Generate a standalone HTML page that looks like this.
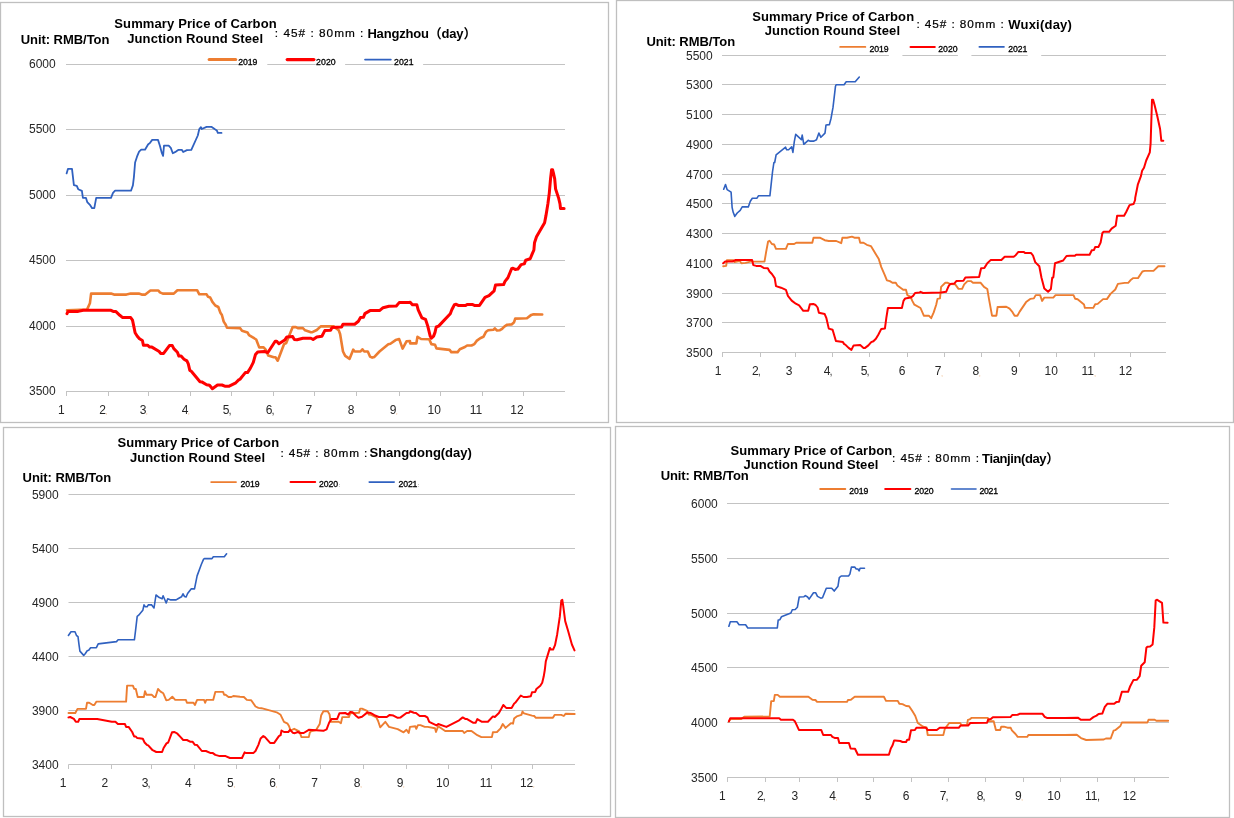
<!DOCTYPE html>
<html lang="en"><head><meta charset="utf-8"><title>Summary Price of Carbon Junction Round Steel</title>
<style>html,body{margin:0;padding:0;background:#fff}body{width:1234px;height:818px;overflow:hidden}svg{display:block}text{font-family:"Liberation Sans","Noto Sans CJK SC",sans-serif}</style>
</head><body>
<svg width="1234" height="818" viewBox="0 0 1234 818">
<rect width="1234" height="818" fill="#fff"/>
<g id="c1">
<rect x="0.5" y="2.5" width="608.0" height="420.0" fill="#fff" stroke="#bfbfbf" stroke-width="1.3"/>
<line x1="66.0" y1="64.5" x2="565.0" y2="64.5" stroke="#c3c3c3" stroke-width="1"/>
<text x="55.7" y="68.4" font-size="12" font-weight="normal" text-anchor="end" fill="#262626">6000</text>
<line x1="66.0" y1="129.5" x2="565.0" y2="129.5" stroke="#c3c3c3" stroke-width="1"/>
<text x="55.7" y="133.4" font-size="12" font-weight="normal" text-anchor="end" fill="#262626">5500</text>
<line x1="66.0" y1="195.5" x2="565.0" y2="195.5" stroke="#c3c3c3" stroke-width="1"/>
<text x="55.7" y="199.4" font-size="12" font-weight="normal" text-anchor="end" fill="#262626">5000</text>
<line x1="66.0" y1="260.5" x2="565.0" y2="260.5" stroke="#c3c3c3" stroke-width="1"/>
<text x="55.7" y="264.4" font-size="12" font-weight="normal" text-anchor="end" fill="#262626">4500</text>
<line x1="66.0" y1="326.5" x2="565.0" y2="326.5" stroke="#c3c3c3" stroke-width="1"/>
<text x="55.7" y="330.4" font-size="12" font-weight="normal" text-anchor="end" fill="#262626">4000</text>
<line x1="66.0" y1="391.5" x2="565.0" y2="391.5" stroke="#c3c3c3" stroke-width="1"/>
<text x="55.7" y="395.4" font-size="12" font-weight="normal" text-anchor="end" fill="#262626">3500</text>
<line x1="66.5" y1="391.5" x2="66.5" y2="396.0" stroke="#c3c3c3" stroke-width="1"/>
<line x1="108.5" y1="391.5" x2="108.5" y2="396.0" stroke="#c3c3c3" stroke-width="1"/>
<line x1="148.5" y1="391.5" x2="148.5" y2="396.0" stroke="#c3c3c3" stroke-width="1"/>
<line x1="190.5" y1="391.5" x2="190.5" y2="396.0" stroke="#c3c3c3" stroke-width="1"/>
<line x1="231.5" y1="391.5" x2="231.5" y2="396.0" stroke="#c3c3c3" stroke-width="1"/>
<line x1="273.5" y1="391.5" x2="273.5" y2="396.0" stroke="#c3c3c3" stroke-width="1"/>
<line x1="314.5" y1="391.5" x2="314.5" y2="396.0" stroke="#c3c3c3" stroke-width="1"/>
<line x1="356.5" y1="391.5" x2="356.5" y2="396.0" stroke="#c3c3c3" stroke-width="1"/>
<line x1="399.5" y1="391.5" x2="399.5" y2="396.0" stroke="#c3c3c3" stroke-width="1"/>
<line x1="440.5" y1="391.5" x2="440.5" y2="396.0" stroke="#c3c3c3" stroke-width="1"/>
<line x1="482.5" y1="391.5" x2="482.5" y2="396.0" stroke="#c3c3c3" stroke-width="1"/>
<line x1="523.5" y1="391.5" x2="523.5" y2="396.0" stroke="#c3c3c3" stroke-width="1"/>
<text x="61.4" y="413.5" font-size="12" font-weight="normal" text-anchor="middle" fill="#262626">1</text>
<text x="102.6" y="413.5" font-size="12" font-weight="normal" text-anchor="middle" fill="#262626">2</text>
<text x="105.4" y="414.1" font-size="7.5" font-weight="normal" text-anchor="start" fill="#EDB88A">,</text>
<text x="143.0" y="413.5" font-size="12" font-weight="normal" text-anchor="middle" fill="#262626">3</text>
<text x="145.8" y="414.1" font-size="7.5" font-weight="normal" text-anchor="start" fill="#EDB88A">,</text>
<text x="185.0" y="413.5" font-size="12" font-weight="normal" text-anchor="middle" fill="#262626">4</text>
<text x="187.8" y="414.1" font-size="7.5" font-weight="normal" text-anchor="start" fill="#EDB88A">,</text>
<text x="226.0" y="413.5" font-size="12" font-weight="normal" text-anchor="middle" fill="#262626">5</text>
<text x="228.5" y="413.8" font-size="11" font-weight="normal" text-anchor="start" fill="#3a3a3a">,</text>
<text x="269.0" y="413.5" font-size="12" font-weight="normal" text-anchor="middle" fill="#262626">6</text>
<text x="271.5" y="413.8" font-size="11" font-weight="normal" text-anchor="start" fill="#3a3a3a">,</text>
<text x="308.8" y="413.5" font-size="12" font-weight="normal" text-anchor="middle" fill="#262626">7</text>
<text x="351.0" y="413.5" font-size="12" font-weight="normal" text-anchor="middle" fill="#262626">8</text>
<text x="393.0" y="413.5" font-size="12" font-weight="normal" text-anchor="middle" fill="#262626">9</text>
<text x="395.8" y="414.1" font-size="7.5" font-weight="normal" text-anchor="start" fill="#EDB88A">,</text>
<text x="434.2" y="413.5" font-size="12" font-weight="normal" text-anchor="middle" fill="#262626">10</text>
<text x="476.0" y="413.5" font-size="12" font-weight="normal" text-anchor="middle" fill="#262626">11</text>
<text x="517.0" y="413.5" font-size="12" font-weight="normal" text-anchor="middle" fill="#262626">12</text>
<rect x="237.9" y="60.6" width="29.4" height="10.0" fill="#fff" stroke="none"/>
<line x1="209.1" y1="59.6" x2="235.7" y2="59.6" stroke="#ED7D31" stroke-width="3.0" stroke-linecap="round"/>
<text x="238.2" y="64.9" font-size="8.7" font-weight="normal" text-anchor="start" fill="#000" textLength="19.1" lengthAdjust="spacing" stroke="#000" stroke-width="0.3">2019</text>
<rect x="315.7" y="60.6" width="29.4" height="10.0" fill="#fff" stroke="none"/>
<line x1="287.2" y1="59.6" x2="313.9" y2="59.6" stroke="#FF0000" stroke-width="3.2" stroke-linecap="round"/>
<text x="316.0" y="64.9" font-size="8.7" font-weight="normal" text-anchor="start" fill="#000" textLength="19.7" lengthAdjust="spacing" stroke="#000" stroke-width="0.3">2020</text>
<rect x="393.7" y="60.6" width="29.4" height="10.0" fill="#fff" stroke="none"/>
<line x1="365.1" y1="59.6" x2="390.8" y2="59.6" stroke="#3061C0" stroke-width="1.9" stroke-linecap="round"/>
<text x="394.0" y="64.9" font-size="8.7" font-weight="normal" text-anchor="start" fill="#000" textLength="19.6" lengthAdjust="spacing" stroke="#000" stroke-width="0.3">2021</text>
<path d="M67.0 310.3 L87.0 309.6 L89.9 303.3 L91.1 293.6 L111.0 293.6 L114.0 294.6 L126.4 294.6 L130.7 293.6 L138.8 293.6 L141.7 294.6 L145.3 294.6 L150.4 290.5 L158.4 290.5 L159.9 292.4 L162.8 293.6 L173.8 293.6 L177.4 290.2 L197.1 290.2 L199.3 294.3 L206.6 294.3 L208.1 296.8 L210.2 297.5 L212.4 301.9 L215.3 305.5 L218.3 307.0 L220.4 312.8 L221.9 315.0 L223.7 321.6 L225.6 324.5 L227.0 327.8 L240.0 328.1 L242.0 330.8 L247.5 332.5 L249.0 335.1 L256.2 339.5 L259.2 347.4 L263.6 347.4 L265.7 349.7 L268.2 355.4 L273.8 357.3 L275.5 357.3 L277.7 360.7 L284.0 344.2 L286.2 343.0 L292.7 327.1 L295.9 327.1 L297.8 328.1 L302.9 328.1 L305.1 330.3 L310.9 332.2 L312.4 332.2 L316.8 330.0 L320.7 326.4 L333.6 326.4 L338.7 330.3 L340.1 334.0 L343.0 351.5 L345.2 355.9 L349.6 358.8 L353.2 349.7 L354.7 351.5 L360.5 351.5 L362.4 349.3 L364.2 351.5 L367.8 351.5 L370.0 356.6 L372.2 357.6 L374.4 356.9 L379.5 351.5 L388.3 344.2 L390.4 343.7 L395.6 340.1 L399.2 339.1 L402.6 348.6 L406.5 341.3 L410.0 341.0 L410.2 343.4 L416.3 343.4 L417.5 336.8 L421.1 339.0 L429.2 339.3 L431.4 344.1 L435.0 344.8 L436.5 348.4 L449.6 349.9 L451.3 352.1 L457.6 352.1 L459.8 349.2 L464.9 347.0 L467.1 345.5 L471.5 345.5 L474.4 344.1 L476.6 340.9 L480.2 338.2 L483.4 336.8 L486.1 331.7 L488.2 330.2 L493.4 329.8 L494.8 328.3 L497.0 330.5 L499.9 330.2 L502.1 328.8 L504.3 326.6 L507.2 324.7 L511.6 324.4 L514.1 322.2 L515.2 318.6 L526.9 318.3 L531.3 314.9 L533.5 314.2 L542.2 314.5" fill="none" stroke="#ED7D31" stroke-width="2.6" stroke-linejoin="round" stroke-linecap="round"/>
<path d="M67.0 313.6 L68.0 311.4 L78.2 311.4 L83.3 310.3 L111.0 310.3 L113.2 311.4 L115.7 311.4 L119.8 315.3 L122.7 317.6 L130.7 317.6 L132.5 320.1 L133.7 325.9 L135.1 332.8 L137.3 336.2 L139.5 338.8 L142.4 340.5 L143.4 345.2 L147.5 345.2 L149.7 347.1 L151.9 347.1 L159.2 351.5 L160.6 353.4 L163.6 353.4 L169.4 345.6 L172.3 345.6 L173.8 348.6 L177.4 352.2 L178.9 356.1 L181.1 356.1 L184.0 359.2 L186.9 360.9 L188.3 363.9 L189.8 370.4 L191.3 371.2 L200.0 381.7 L202.2 382.1 L206.6 384.7 L209.5 385.3 L212.4 388.7 L217.5 385.0 L221.9 385.0 L224.8 386.2 L229.2 386.2 L235.8 382.8 L238.7 379.9 L240.0 379.2 L245.3 372.6 L247.5 372.6 L250.4 368.2 L253.3 362.4 L255.5 354.4 L257.7 351.9 L264.3 351.5 L267.9 352.5 L275.2 341.3 L276.7 341.3 L278.9 343.7 L284.7 340.1 L286.9 336.9 L292.7 336.6 L294.2 339.4 L297.1 339.8 L302.9 338.3 L310.9 338.3 L313.1 339.5 L316.8 336.9 L321.9 336.2 L324.8 330.6 L330.6 330.3 L332.1 327.4 L341.6 327.0 L343.0 324.2 L354.7 324.2 L358.4 321.3 L360.5 317.6 L363.5 317.2 L364.9 313.6 L370.0 310.6 L379.5 310.6 L383.1 307.7 L389.0 306.2 L396.3 306.0 L399.2 302.6 L410.0 302.3 L410.2 302.2 L412.4 304.7 L416.8 304.7 L418.2 309.8 L421.9 317.8 L425.5 319.3 L427.7 325.9 L430.2 336.1 L431.4 338.2 L433.6 336.1 L435.0 332.4 L436.2 327.0 L438.6 326.1 L450.3 313.7 L451.8 309.8 L454.4 304.7 L456.2 304.3 L458.3 305.4 L465.6 305.4 L467.1 304.4 L472.2 304.4 L474.4 305.4 L479.5 305.4 L485.0 297.4 L489.0 295.6 L494.1 290.8 L495.5 285.0 L503.6 284.6 L505.0 281.4 L507.9 277.7 L511.6 268.7 L513.0 268.2 L515.2 269.4 L517.9 269.0 L521.1 264.6 L524.3 263.9 L525.7 260.2 L530.2 258.8 L532.0 254.4 L533.9 250.0 L534.5 242.8 L536.5 236.8 L544.6 222.7 L545.9 215.9 L547.9 203.8 L549.3 193.1 L550.6 178.2 L551.6 169.8 L552.6 169.8 L553.7 174.2 L554.7 178.9 L555.6 189.0 L558.7 198.4 L560.0 203.8 L560.5 208.5 L564.1 208.5" fill="none" stroke="#FF0000" stroke-width="3.0" stroke-linejoin="round" stroke-linecap="round"/>
<path d="M66.6 173.4 L68.0 168.8 L72.0 168.8 L73.9 185.1 L76.8 185.8 L78.2 189.2 L81.9 190.9 L82.9 197.9 L86.0 197.9 L87.3 202.2 L89.9 204.8 L92.1 208.2 L94.3 208.2 L96.2 197.8 L111.0 197.8 L113.0 192.8 L115.1 190.7 L131.0 190.7 L132.9 185.4 L133.9 177.1 L135.1 162.5 L137.0 156.7 L139.1 151.6 L141.2 149.7 L145.0 149.7 L148.2 144.3 L149.7 143.3 L152.2 139.9 L158.0 139.9 L159.9 145.7 L161.7 152.6 L163.1 155.9 L164.0 145.7 L168.7 145.7 L170.8 147.9 L172.8 153.2 L176.0 151.6 L178.6 149.8 L181.8 149.8 L183.2 152.0 L186.9 150.1 L191.3 149.8 L197.8 135.5 L199.3 129.0 L200.9 127.2 L201.8 129.0 L206.6 126.9 L211.7 126.9 L214.6 129.0 L216.8 130.4 L217.8 132.9 L221.5 132.9" fill="none" stroke="#3061C0" stroke-width="1.8" stroke-linejoin="round" stroke-linecap="round"/>
<text x="114.3" y="28.1" font-size="13" font-weight="bold" text-anchor="start" fill="#000" textLength="162.4" lengthAdjust="spacing">Summary Price of Carbon</text>
<text x="127.2" y="43.2" font-size="13" font-weight="bold" text-anchor="start" fill="#000" textLength="135.8" lengthAdjust="spacing">Junction Round Steel</text>
<text x="20.7" y="44.4" font-size="13" font-weight="bold" text-anchor="start" fill="#000" textLength="88.7" lengthAdjust="spacing">Unit: RMB/Ton</text>
<text x="274.8" y="37.3" font-size="11.8" font-weight="normal" text-anchor="start" fill="#000" textLength="88.6" lengthAdjust="spacing" stroke="#000" stroke-width="0.2">: 45# : 80mm :</text>
<text x="367.4" y="38.1" font-size="13" font-weight="bold" text-anchor="start" fill="#000" textLength="109.0" lengthAdjust="spacing">Hangzhou（day）</text>
</g>
<g id="c2">
<rect x="616.5" y="0.5" width="617.0" height="422.0" fill="#fff" stroke="#bfbfbf" stroke-width="1.3"/>
<line x1="722.0" y1="55.5" x2="1166.0" y2="55.5" stroke="#c3c3c3" stroke-width="1"/>
<text x="712.7" y="59.6" font-size="12" font-weight="normal" text-anchor="end" fill="#262626">5500</text>
<line x1="722.0" y1="84.5" x2="1166.0" y2="84.5" stroke="#c3c3c3" stroke-width="1"/>
<text x="712.7" y="88.6" font-size="12" font-weight="normal" text-anchor="end" fill="#262626">5300</text>
<line x1="722.0" y1="114.5" x2="1166.0" y2="114.5" stroke="#c3c3c3" stroke-width="1"/>
<text x="712.7" y="118.6" font-size="12" font-weight="normal" text-anchor="end" fill="#262626">5100</text>
<line x1="722.0" y1="144.5" x2="1166.0" y2="144.5" stroke="#c3c3c3" stroke-width="1"/>
<text x="712.7" y="148.6" font-size="12" font-weight="normal" text-anchor="end" fill="#262626">4900</text>
<line x1="722.0" y1="174.5" x2="1166.0" y2="174.5" stroke="#c3c3c3" stroke-width="1"/>
<text x="712.7" y="178.6" font-size="12" font-weight="normal" text-anchor="end" fill="#262626">4700</text>
<line x1="722.0" y1="203.5" x2="1166.0" y2="203.5" stroke="#c3c3c3" stroke-width="1"/>
<text x="712.7" y="207.6" font-size="12" font-weight="normal" text-anchor="end" fill="#262626">4500</text>
<line x1="722.0" y1="233.5" x2="1166.0" y2="233.5" stroke="#c3c3c3" stroke-width="1"/>
<text x="712.7" y="237.6" font-size="12" font-weight="normal" text-anchor="end" fill="#262626">4300</text>
<line x1="722.0" y1="263.5" x2="1166.0" y2="263.5" stroke="#c3c3c3" stroke-width="1"/>
<text x="712.7" y="267.6" font-size="12" font-weight="normal" text-anchor="end" fill="#262626">4100</text>
<line x1="722.0" y1="293.5" x2="1166.0" y2="293.5" stroke="#c3c3c3" stroke-width="1"/>
<text x="712.7" y="297.6" font-size="12" font-weight="normal" text-anchor="end" fill="#262626">3900</text>
<line x1="722.0" y1="322.5" x2="1166.0" y2="322.5" stroke="#c3c3c3" stroke-width="1"/>
<text x="712.7" y="326.6" font-size="12" font-weight="normal" text-anchor="end" fill="#262626">3700</text>
<line x1="722.0" y1="352.5" x2="1166.0" y2="352.5" stroke="#c3c3c3" stroke-width="1"/>
<text x="712.7" y="356.6" font-size="12" font-weight="normal" text-anchor="end" fill="#262626">3500</text>
<line x1="722.5" y1="352.5" x2="722.5" y2="357.0" stroke="#c3c3c3" stroke-width="1"/>
<line x1="760.5" y1="352.5" x2="760.5" y2="357.0" stroke="#c3c3c3" stroke-width="1"/>
<line x1="795.5" y1="352.5" x2="795.5" y2="357.0" stroke="#c3c3c3" stroke-width="1"/>
<line x1="832.5" y1="352.5" x2="832.5" y2="357.0" stroke="#c3c3c3" stroke-width="1"/>
<line x1="869.5" y1="352.5" x2="869.5" y2="357.0" stroke="#c3c3c3" stroke-width="1"/>
<line x1="907.5" y1="352.5" x2="907.5" y2="357.0" stroke="#c3c3c3" stroke-width="1"/>
<line x1="944.5" y1="352.5" x2="944.5" y2="357.0" stroke="#c3c3c3" stroke-width="1"/>
<line x1="981.5" y1="352.5" x2="981.5" y2="357.0" stroke="#c3c3c3" stroke-width="1"/>
<line x1="1019.5" y1="352.5" x2="1019.5" y2="357.0" stroke="#c3c3c3" stroke-width="1"/>
<line x1="1056.5" y1="352.5" x2="1056.5" y2="357.0" stroke="#c3c3c3" stroke-width="1"/>
<line x1="1094.5" y1="352.5" x2="1094.5" y2="357.0" stroke="#c3c3c3" stroke-width="1"/>
<line x1="1130.5" y1="352.5" x2="1130.5" y2="357.0" stroke="#c3c3c3" stroke-width="1"/>
<text x="718.1" y="375.0" font-size="12" font-weight="normal" text-anchor="middle" fill="#262626">1</text>
<text x="755.3" y="375.0" font-size="12" font-weight="normal" text-anchor="middle" fill="#262626">2</text>
<text x="757.8" y="375.3" font-size="11" font-weight="normal" text-anchor="start" fill="#3a3a3a">,</text>
<text x="789.1" y="375.0" font-size="12" font-weight="normal" text-anchor="middle" fill="#262626">3</text>
<text x="827.0" y="375.0" font-size="12" font-weight="normal" text-anchor="middle" fill="#262626">4</text>
<text x="829.5" y="375.3" font-size="11" font-weight="normal" text-anchor="start" fill="#3a3a3a">,</text>
<text x="864.0" y="375.0" font-size="12" font-weight="normal" text-anchor="middle" fill="#262626">5</text>
<text x="866.5" y="375.3" font-size="11" font-weight="normal" text-anchor="start" fill="#3a3a3a">,</text>
<text x="902.2" y="375.0" font-size="12" font-weight="normal" text-anchor="middle" fill="#262626">6</text>
<text x="938.2" y="375.0" font-size="12" font-weight="normal" text-anchor="middle" fill="#262626">7</text>
<text x="941.0" y="375.6" font-size="7.5" font-weight="normal" text-anchor="start" fill="#EDB88A">,</text>
<text x="975.9" y="375.0" font-size="12" font-weight="normal" text-anchor="middle" fill="#262626">8</text>
<text x="978.7" y="375.6" font-size="7.5" font-weight="normal" text-anchor="start" fill="#EDB88A">,</text>
<text x="1014.3" y="375.0" font-size="12" font-weight="normal" text-anchor="middle" fill="#262626">9</text>
<text x="1051.2" y="375.0" font-size="12" font-weight="normal" text-anchor="middle" fill="#262626">10</text>
<text x="1087.7" y="375.0" font-size="12" font-weight="normal" text-anchor="middle" fill="#262626">11</text>
<text x="1093.9" y="375.6" font-size="7.5" font-weight="normal" text-anchor="start" fill="#EDB88A">,</text>
<text x="1125.4" y="375.0" font-size="12" font-weight="normal" text-anchor="middle" fill="#262626">12</text>
<rect x="888.9" y="51.9" width="13.5" height="8.0" fill="#fff" stroke="none"/>
<line x1="840.2" y1="46.9" x2="865.3" y2="46.9" stroke="#ED7D31" stroke-width="1.9" stroke-linecap="round"/>
<text x="869.4" y="51.8" font-size="8.7" font-weight="normal" text-anchor="start" fill="#000" textLength="19.2" lengthAdjust="spacing" stroke="#000" stroke-width="0.3">2019</text>
<rect x="957.9" y="51.9" width="13.5" height="8.0" fill="#fff" stroke="none"/>
<line x1="910.5" y1="46.9" x2="934.8" y2="46.9" stroke="#FF0000" stroke-width="2.0" stroke-linecap="round"/>
<text x="938.2" y="51.8" font-size="8.7" font-weight="normal" text-anchor="start" fill="#000" textLength="19.4" lengthAdjust="spacing" stroke="#000" stroke-width="0.3">2020</text>
<rect x="1027.7" y="51.9" width="13.5" height="8.0" fill="#fff" stroke="none"/>
<line x1="979.3" y1="46.9" x2="1004.0" y2="46.9" stroke="#3061C0" stroke-width="1.6" stroke-linecap="round"/>
<text x="1008.2" y="51.8" font-size="8.7" font-weight="normal" text-anchor="start" fill="#000" textLength="19.2" lengthAdjust="spacing" stroke="#000" stroke-width="0.3">2021</text>
<path d="M723.2 266.2 L726.2 265.9 L726.9 260.1 L733.1 260.1 L734.5 262.1 L739.8 261.0 L741.4 263.3 L745.5 262.9 L750.5 261.6 L764.5 261.6 L766.1 252.2 L768.1 241.5 L769.5 240.7 L771.9 244.0 L774.1 244.5 L776.0 248.9 L785.9 248.9 L787.9 244.0 L794.2 244.0 L796.2 242.7 L812.3 242.7 L813.5 237.7 L819.8 237.7 L824.7 240.2 L828.8 241.0 L836.3 241.0 L841.2 243.2 L842.4 237.7 L847.0 237.7 L851.9 236.6 L854.4 237.7 L859.0 237.7 L860.2 242.8 L863.5 242.8 L866.8 244.8 L870.9 246.1 L878.8 259.1 L881.3 267.1 L884.9 275.3 L886.9 280.3 L889.9 281.1 L892.4 282.8 L895.0 282.8 L895.8 282.8 L897.4 285.6 L903.2 289.8 L906.0 289.8 L907.3 295.1 L910.6 296.8 L912.3 300.9 L914.4 304.7 L920.5 308.0 L923.8 315.7 L928.8 315.7 L931.2 318.2 L933.7 312.4 L936.2 304.7 L937.5 298.9 L940.0 298.4 L941.1 286.9 L945.3 282.8 L947.8 282.8 L950.2 284.1 L955.2 284.4 L958.5 288.9 L962.1 288.9 L964.2 284.4 L967.5 281.1 L970.8 281.1 L973.0 282.8 L980.7 282.8 L984.0 286.9 L987.3 289.0 L989.0 299.2 L992.0 315.7 L996.4 315.7 L997.6 307.0 L1006.3 306.7 L1009.6 308.6 L1012.1 311.6 L1014.6 315.7 L1017.4 315.7 L1019.5 311.9 L1026.1 302.1 L1030.2 298.9 L1033.9 298.4 L1035.7 295.1 L1040.1 295.1 L1042.1 300.9 L1044.3 297.6 L1053.3 297.6 L1055.5 295.1 L1070.0 295.1 L1073.5 295.1 L1075.2 298.8 L1077.6 299.3 L1084.0 304.5 L1084.9 307.9 L1093.3 307.9 L1095.2 304.2 L1097.7 303.9 L1103.1 299.1 L1106.9 299.1 L1110.5 293.9 L1115.3 289.5 L1117.9 283.9 L1124.8 282.9 L1128.2 282.9 L1130.4 280.3 L1133.3 278.1 L1138.0 278.1 L1142.4 271.5 L1144.6 270.9 L1153.5 270.9 L1158.3 266.3 L1164.5 266.3" fill="none" stroke="#ED7D31" stroke-width="1.9" stroke-linejoin="round" stroke-linecap="round"/>
<path d="M723.2 263.3 L725.2 261.6 L732.3 261.6 L735.6 260.0 L752.1 260.0 L753.3 265.1 L756.2 265.9 L760.4 265.9 L763.7 267.9 L767.8 268.2 L769.5 271.5 L771.9 274.0 L774.7 278.1 L776.0 286.1 L781.0 287.7 L785.9 289.8 L787.9 295.9 L791.7 300.6 L795.8 303.7 L799.1 305.4 L803.3 310.8 L808.2 310.8 L809.9 304.2 L813.2 303.9 L815.6 305.0 L817.6 307.5 L818.9 312.8 L824.7 314.1 L826.4 318.2 L828.8 328.6 L832.6 329.8 L835.9 341.0 L842.9 342.1 L844.2 344.1 L845.3 344.6 L848.6 347.9 L851.4 349.9 L853.6 345.4 L860.2 345.1 L863.5 347.9 L865.1 347.9 L868.4 345.4 L871.2 342.1 L873.4 341.3 L875.9 338.8 L878.3 334.7 L881.3 328.9 L884.9 328.6 L886.3 318.2 L887.9 308.0 L895.0 308.0 L901.9 308.0 L903.5 300.9 L905.2 298.4 L910.6 297.6 L913.1 295.9 L915.1 293.0 L919.7 292.6 L920.5 291.8 L923.0 293.0 L941.1 292.6 L946.1 291.8 L948.6 286.1 L950.2 284.1 L954.3 283.6 L956.3 281.1 L963.4 280.8 L965.4 277.5 L979.1 277.0 L981.1 268.2 L984.4 267.9 L987.3 263.3 L990.6 260.1 L1001.4 260.0 L1004.7 256.8 L1013.7 256.7 L1015.7 255.2 L1018.4 251.9 L1023.6 251.9 L1025.3 253.1 L1031.1 253.1 L1033.0 255.5 L1035.2 262.1 L1039.3 266.2 L1041.5 277.8 L1044.3 288.5 L1048.1 291.8 L1050.9 289.0 L1052.2 277.8 L1053.3 277.5 L1055.0 263.3 L1063.2 260.5 L1066.5 256.0 L1070.0 255.8 L1074.9 255.8 L1076.1 254.7 L1089.6 254.7 L1091.8 250.3 L1094.0 249.9 L1095.2 247.0 L1098.4 247.0 L1100.6 242.6 L1102.4 233.0 L1103.6 231.8 L1109.1 231.8 L1111.6 228.6 L1115.7 225.7 L1117.1 215.8 L1124.1 215.8 L1126.3 211.7 L1129.5 205.1 L1133.6 204.0 L1135.1 200.0 L1135.2 197.9 L1137.8 184.7 L1141.0 175.9 L1142.1 170.8 L1144.0 167.8 L1146.2 160.5 L1149.8 152.4 L1150.6 143.6 L1151.3 121.7 L1152.0 99.7 L1153.1 99.7 L1154.5 104.8 L1157.2 115.8 L1160.1 129.0 L1161.3 140.7 L1163.3 140.7" fill="none" stroke="#FF0000" stroke-width="2.0" stroke-linejoin="round" stroke-linecap="round"/>
<path d="M723.7 189.2 L725.5 184.5 L727.1 189.6 L731.1 192.2 L732.1 207.3 L733.2 212.3 L734.8 216.4 L737.2 213.0 L740.2 210.3 L742.2 206.9 L748.3 206.9 L750.3 201.2 L752.3 198.2 L757.0 198.2 L758.4 195.8 L769.9 195.8 L771.5 181.1 L772.5 172.0 L773.9 162.5 L774.7 162.5 L776.1 154.8 L785.6 147.2 L786.6 149.8 L788.6 149.8 L791.7 146.8 L792.9 152.4 L794.3 141.7 L795.7 134.3 L801.4 139.7 L802.2 135.1 L803.8 144.3 L808.2 140.3 L809.8 141.1 L813.9 141.1 L816.5 139.7 L818.9 133.1 L820.9 137.3 L825.0 133.1 L826.0 125.0 L829.4 124.6 L831.0 118.5 L833.0 107.4 L835.5 86.2 L836.1 84.8 L844.1 84.8 L846.2 81.8 L855.2 81.8 L859.3 77.0" fill="none" stroke="#3061C0" stroke-width="1.6" stroke-linejoin="round" stroke-linecap="round"/>
<text x="752.2" y="21.4" font-size="13" font-weight="bold" text-anchor="start" fill="#000" textLength="161.9" lengthAdjust="spacing">Summary Price of Carbon</text>
<text x="764.8" y="35.3" font-size="13" font-weight="bold" text-anchor="start" fill="#000" textLength="135.2" lengthAdjust="spacing">Junction Round Steel</text>
<text x="646.4" y="45.5" font-size="13" font-weight="bold" text-anchor="start" fill="#000" textLength="88.7" lengthAdjust="spacing">Unit: RMB/Ton</text>
<text x="916.4" y="28.4" font-size="11.8" font-weight="normal" text-anchor="start" fill="#000" textLength="87.4" lengthAdjust="spacing" stroke="#000" stroke-width="0.2">: 45# : 80mm :</text>
<text x="1008.2" y="29.2" font-size="13" font-weight="bold" text-anchor="start" fill="#000" textLength="63.7" lengthAdjust="spacing">Wuxi(day)</text>
</g>
<g id="c3">
<rect x="3.5" y="427.5" width="607.0" height="389.0" fill="#fff" stroke="#bfbfbf" stroke-width="1.3"/>
<line x1="68.5" y1="494.5" x2="575.0" y2="494.5" stroke="#c3c3c3" stroke-width="1"/>
<text x="58.6" y="499.4" font-size="12" font-weight="normal" text-anchor="end" fill="#262626">5900</text>
<line x1="68.5" y1="548.5" x2="575.0" y2="548.5" stroke="#c3c3c3" stroke-width="1"/>
<text x="58.6" y="553.4" font-size="12" font-weight="normal" text-anchor="end" fill="#262626">5400</text>
<line x1="68.5" y1="602.5" x2="575.0" y2="602.5" stroke="#c3c3c3" stroke-width="1"/>
<text x="58.6" y="607.4" font-size="12" font-weight="normal" text-anchor="end" fill="#262626">4900</text>
<line x1="68.5" y1="656.5" x2="575.0" y2="656.5" stroke="#c3c3c3" stroke-width="1"/>
<text x="58.6" y="661.4" font-size="12" font-weight="normal" text-anchor="end" fill="#262626">4400</text>
<line x1="68.5" y1="710.5" x2="575.0" y2="710.5" stroke="#c3c3c3" stroke-width="1"/>
<text x="58.6" y="715.4" font-size="12" font-weight="normal" text-anchor="end" fill="#262626">3900</text>
<line x1="68.5" y1="764.5" x2="575.0" y2="764.5" stroke="#c3c3c3" stroke-width="1"/>
<text x="58.6" y="769.4" font-size="12" font-weight="normal" text-anchor="end" fill="#262626">3400</text>
<line x1="68.5" y1="764.5" x2="68.5" y2="769.0" stroke="#c3c3c3" stroke-width="1"/>
<line x1="111.5" y1="764.5" x2="111.5" y2="769.0" stroke="#c3c3c3" stroke-width="1"/>
<line x1="151.5" y1="764.5" x2="151.5" y2="769.0" stroke="#c3c3c3" stroke-width="1"/>
<line x1="194.5" y1="764.5" x2="194.5" y2="769.0" stroke="#c3c3c3" stroke-width="1"/>
<line x1="236.5" y1="764.5" x2="236.5" y2="769.0" stroke="#c3c3c3" stroke-width="1"/>
<line x1="279.5" y1="764.5" x2="279.5" y2="769.0" stroke="#c3c3c3" stroke-width="1"/>
<line x1="320.5" y1="764.5" x2="320.5" y2="769.0" stroke="#c3c3c3" stroke-width="1"/>
<line x1="363.5" y1="764.5" x2="363.5" y2="769.0" stroke="#c3c3c3" stroke-width="1"/>
<line x1="406.5" y1="764.5" x2="406.5" y2="769.0" stroke="#c3c3c3" stroke-width="1"/>
<line x1="448.5" y1="764.5" x2="448.5" y2="769.0" stroke="#c3c3c3" stroke-width="1"/>
<line x1="491.5" y1="764.5" x2="491.5" y2="769.0" stroke="#c3c3c3" stroke-width="1"/>
<line x1="532.5" y1="764.5" x2="532.5" y2="769.0" stroke="#c3c3c3" stroke-width="1"/>
<text x="63.1" y="786.5" font-size="12" font-weight="normal" text-anchor="middle" fill="#262626">1</text>
<text x="104.9" y="786.5" font-size="12" font-weight="normal" text-anchor="middle" fill="#262626">2</text>
<text x="145.0" y="786.5" font-size="12" font-weight="normal" text-anchor="middle" fill="#262626">3</text>
<text x="147.5" y="786.8" font-size="11" font-weight="normal" text-anchor="start" fill="#3a3a3a">,</text>
<text x="188.3" y="786.5" font-size="12" font-weight="normal" text-anchor="middle" fill="#262626">4</text>
<text x="230.4" y="786.5" font-size="12" font-weight="normal" text-anchor="middle" fill="#262626">5</text>
<text x="233.2" y="787.1" font-size="7.5" font-weight="normal" text-anchor="start" fill="#EDB88A">,</text>
<text x="272.7" y="786.5" font-size="12" font-weight="normal" text-anchor="middle" fill="#262626">6</text>
<text x="275.5" y="787.1" font-size="7.5" font-weight="normal" text-anchor="start" fill="#EDB88A">,</text>
<text x="314.5" y="786.5" font-size="12" font-weight="normal" text-anchor="middle" fill="#262626">7</text>
<text x="357.1" y="786.5" font-size="12" font-weight="normal" text-anchor="middle" fill="#262626">8</text>
<text x="359.9" y="787.1" font-size="7.5" font-weight="normal" text-anchor="start" fill="#EDB88A">,</text>
<text x="400.0" y="786.5" font-size="12" font-weight="normal" text-anchor="middle" fill="#262626">9</text>
<text x="402.8" y="787.1" font-size="7.5" font-weight="normal" text-anchor="start" fill="#EDB88A">,</text>
<text x="442.7" y="786.5" font-size="12" font-weight="normal" text-anchor="middle" fill="#262626">10</text>
<text x="486.0" y="786.5" font-size="12" font-weight="normal" text-anchor="middle" fill="#262626">11</text>
<text x="526.6" y="786.5" font-size="12" font-weight="normal" text-anchor="middle" fill="#262626">12</text>
<text x="532.8" y="787.1" font-size="7.5" font-weight="normal" text-anchor="start" fill="#EDB88A">,</text>
<line x1="211.2" y1="482.1" x2="236.0" y2="482.1" stroke="#ED7D31" stroke-width="1.9" stroke-linecap="round"/>
<text x="240.5" y="486.8" font-size="8.7" font-weight="normal" text-anchor="start" fill="#000" textLength="19.0" lengthAdjust="spacing" stroke="#000" stroke-width="0.3">2019</text>
<line x1="290.5" y1="482.1" x2="315.2" y2="482.1" stroke="#FF0000" stroke-width="2.0" stroke-linecap="round"/>
<text x="319.1" y="486.8" font-size="8.7" font-weight="normal" text-anchor="start" fill="#000" textLength="19.1" lengthAdjust="spacing" stroke="#000" stroke-width="0.3">2020</text>
<text x="338.5" y="486.8" font-size="6" font-weight="normal" text-anchor="start" fill="#444">:</text>
<line x1="369.2" y1="482.1" x2="394.2" y2="482.1" stroke="#3061C0" stroke-width="1.6" stroke-linecap="round"/>
<text x="398.6" y="486.8" font-size="8.7" font-weight="normal" text-anchor="start" fill="#000" textLength="18.8" lengthAdjust="spacing" stroke="#000" stroke-width="0.3">2021</text>
<text x="417.7" y="486.8" font-size="6" font-weight="normal" text-anchor="start" fill="#444">:</text>
<path d="M68.5 713.0 L75.3 713.0 L77.5 708.9 L86.0 708.9 L87.0 702.8 L89.2 702.8 L92.8 705.0 L94.3 705.0 L96.5 701.6 L126.1 701.6 L127.1 685.6 L132.9 685.6 L134.1 688.7 L135.8 689.0 L137.7 697.0 L143.9 697.0 L145.0 691.1 L146.5 694.8 L151.9 694.8 L154.1 697.0 L155.5 697.0 L158.0 689.0 L160.6 691.6 L163.3 693.3 L166.2 700.2 L168.7 699.9 L172.3 696.7 L175.2 699.9 L185.9 699.9 L186.9 702.8 L193.5 702.8 L194.9 705.0 L197.1 699.9 L204.1 699.9 L205.1 702.8 L206.3 699.9 L213.2 699.9 L215.3 691.9 L223.1 691.9 L224.1 694.8 L225.6 694.8 L228.5 697.0 L231.4 697.0 L233.3 696.0 L240.0 696.7 L243.9 697.0 L246.8 699.9 L251.2 700.2 L255.5 706.5 L258.4 707.9 L261.4 708.2 L272.3 711.1 L276.7 712.3 L280.6 714.8 L284.0 721.8 L287.6 723.7 L289.1 726.2 L290.5 730.5 L294.2 728.8 L299.3 731.3 L301.5 737.1 L308.8 737.1 L309.8 732.7 L310.9 731.3 L316.1 730.1 L319.7 724.0 L321.2 715.2 L323.4 711.3 L327.7 711.3 L329.6 714.5 L330.6 721.8 L338.7 721.8 L340.9 723.2 L342.3 717.1 L348.9 717.1 L350.3 713.3 L359.1 712.7 L360.2 708.6 L362.0 708.6 L367.1 710.8 L368.6 714.5 L371.2 714.9 L376.3 717.4 L378.1 721.0 L380.2 727.3 L385.3 721.8 L389.0 726.9 L397.7 729.1 L403.6 732.3 L406.5 729.8 L408.7 733.0 L410.0 726.9 L415.3 726.2 L416.3 728.8 L417.9 725.1 L420.4 725.1 L424.8 726.9 L427.7 726.9 L435.0 728.3 L436.0 732.0 L438.2 726.2 L445.2 731.0 L462.7 731.0 L464.2 733.0 L467.1 731.0 L471.5 731.0 L477.3 735.2 L481.4 737.1 L491.9 737.1 L492.9 732.3 L497.0 732.0 L500.6 728.3 L502.8 724.0 L505.5 727.9 L510.9 723.2 L513.0 723.7 L514.1 718.6 L516.7 716.4 L521.4 714.9 L522.5 711.6 L524.0 713.3 L532.0 715.6 L534.2 716.0 L535.9 717.8 L552.9 717.8 L554.6 714.9 L561.2 714.9 L563.8 716.0 L565.5 713.8 L574.7 714.0" fill="none" stroke="#ED7D31" stroke-width="1.9" stroke-linejoin="round" stroke-linecap="round"/>
<path d="M68.5 717.4 L70.2 717.0 L73.9 718.9 L75.8 721.8 L78.2 721.8 L79.4 718.9 L97.2 718.9 L111.8 721.8 L115.4 721.8 L117.9 724.0 L124.9 724.0 L126.1 726.9 L128.6 726.9 L132.2 732.0 L134.1 736.4 L135.6 736.4 L137.3 738.1 L142.8 738.8 L144.6 742.5 L146.8 744.8 L148.2 745.4 L152.6 750.2 L156.3 752.0 L162.1 752.0 L163.6 748.0 L166.5 743.4 L168.2 742.5 L172.0 732.3 L174.5 732.0 L177.4 733.7 L180.6 737.1 L183.2 740.0 L186.9 740.0 L190.5 741.8 L192.7 741.8 L194.9 744.8 L197.1 745.1 L201.8 751.0 L205.9 751.0 L210.2 752.9 L212.9 753.1 L215.3 754.9 L219.7 756.1 L225.6 756.1 L229.9 758.0 L240.0 758.0 L242.0 758.0 L244.6 752.4 L246.0 753.1 L253.3 753.1 L255.5 751.0 L258.4 744.8 L260.6 738.5 L263.3 736.1 L265.0 737.1 L270.1 742.9 L274.2 742.9 L278.9 736.1 L280.6 735.2 L281.5 730.5 L284.0 732.0 L288.3 732.0 L290.1 729.8 L292.7 732.7 L294.9 733.2 L297.8 732.0 L300.0 733.0 L303.7 733.0 L308.8 729.8 L323.4 730.8 L326.6 729.4 L329.2 722.5 L331.4 719.1 L337.2 718.9 L339.4 713.3 L345.2 713.0 L348.1 714.5 L350.3 711.9 L352.5 712.3 L356.2 716.0 L358.4 717.8 L362.0 716.7 L367.1 712.6 L370.8 713.0 L374.4 715.2 L378.8 717.0 L386.8 717.0 L389.7 714.9 L393.4 715.6 L397.7 717.8 L400.6 717.4 L406.5 713.0 L409.1 712.7 L410.0 711.3 L413.9 712.7 L416.0 713.0 L419.7 716.0 L424.8 716.0 L427.4 717.4 L429.2 721.8 L436.5 725.4 L438.2 724.0 L446.4 726.9 L459.1 720.3 L462.7 717.4 L465.2 718.9 L467.1 719.1 L473.4 722.8 L475.6 722.8 L477.3 719.1 L482.0 721.8 L487.9 721.8 L492.9 716.4 L494.8 717.0 L498.9 713.0 L500.6 710.1 L503.3 705.0 L506.2 707.9 L511.6 707.9 L514.2 703.5 L515.2 702.8 L520.8 695.5 L523.5 697.0 L526.9 697.0 L530.8 696.2 L532.0 692.3 L535.2 691.9 L536.4 689.0 L540.3 685.8 L542.2 682.8 L543.7 676.6 L544.8 670.0 L545.8 661.4 L549.9 647.9 L551.0 649.6 L553.1 649.6 L555.0 645.2 L557.2 634.2 L559.8 616.7 L561.3 600.5 L562.3 599.8 L563.3 606.4 L565.2 621.1 L568.2 631.3 L571.9 644.5 L574.5 650.4" fill="none" stroke="#FF0000" stroke-width="2.0" stroke-linejoin="round" stroke-linecap="round"/>
<path d="M68.4 635.5 L71.0 631.7 L75.0 631.7 L76.5 635.5 L78.0 636.6 L79.1 645.4 L79.9 651.1 L83.7 655.4 L85.2 653.8 L87.2 650.8 L88.7 650.3 L90.6 647.7 L96.4 647.7 L98.2 643.9 L116.5 641.6 L118.1 639.8 L134.4 639.8 L135.6 630.1 L137.2 616.4 L138.7 615.2 L142.8 610.3 L144.0 604.9 L145.3 606.8 L147.1 606.8 L148.3 604.9 L151.7 604.9 L154.0 608.0 L156.0 595.0 L159.3 597.6 L162.1 598.8 L163.1 595.8 L166.2 603.0 L167.7 598.8 L170.8 599.9 L176.1 599.9 L178.4 598.5 L181.5 596.8 L183.0 593.8 L184.5 596.5 L186.1 597.0 L187.6 593.5 L191.1 588.9 L194.5 588.9 L197.1 575.9 L201.3 564.5 L203.6 559.1 L204.4 558.6 L212.0 558.6 L213.3 556.8 L224.3 556.8 L226.6 553.8" fill="none" stroke="#3061C0" stroke-width="1.6" stroke-linejoin="round" stroke-linecap="round"/>
<text x="117.4" y="447.4" font-size="13" font-weight="bold" text-anchor="start" fill="#000" textLength="161.7" lengthAdjust="spacing">Summary Price of Carbon</text>
<text x="130.0" y="462.0" font-size="13" font-weight="bold" text-anchor="start" fill="#000" textLength="135.0" lengthAdjust="spacing">Junction Round Steel</text>
<text x="22.6" y="482.1" font-size="13" font-weight="bold" text-anchor="start" fill="#000" textLength="88.5" lengthAdjust="spacing">Unit: RMB/Ton</text>
<text x="280.4" y="456.5" font-size="11.8" font-weight="normal" text-anchor="start" fill="#000" textLength="86.9" lengthAdjust="spacing" stroke="#000" stroke-width="0.2">: 45# : 80mm :</text>
<text x="369.5" y="457.3" font-size="13" font-weight="bold" text-anchor="start" fill="#000" textLength="102.3" lengthAdjust="spacing">Shangdong(day)</text>
</g>
<g id="c4">
<rect x="615.5" y="426.5" width="614.0" height="391.0" fill="#fff" stroke="#bfbfbf" stroke-width="1.3"/>
<line x1="727.0" y1="503.5" x2="1169.0" y2="503.5" stroke="#c3c3c3" stroke-width="1"/>
<text x="717.8" y="507.9" font-size="12" font-weight="normal" text-anchor="end" fill="#262626">6000</text>
<line x1="727.0" y1="558.5" x2="1169.0" y2="558.5" stroke="#c3c3c3" stroke-width="1"/>
<text x="717.8" y="562.9" font-size="12" font-weight="normal" text-anchor="end" fill="#262626">5500</text>
<line x1="727.0" y1="613.5" x2="1169.0" y2="613.5" stroke="#c3c3c3" stroke-width="1"/>
<text x="717.8" y="617.9" font-size="12" font-weight="normal" text-anchor="end" fill="#262626">5000</text>
<line x1="727.0" y1="667.5" x2="1169.0" y2="667.5" stroke="#c3c3c3" stroke-width="1"/>
<text x="717.8" y="671.9" font-size="12" font-weight="normal" text-anchor="end" fill="#262626">4500</text>
<line x1="727.0" y1="722.5" x2="1169.0" y2="722.5" stroke="#c3c3c3" stroke-width="1"/>
<text x="717.8" y="726.9" font-size="12" font-weight="normal" text-anchor="end" fill="#262626">4000</text>
<line x1="727.0" y1="777.5" x2="1169.0" y2="777.5" stroke="#c3c3c3" stroke-width="1"/>
<text x="717.8" y="781.9" font-size="12" font-weight="normal" text-anchor="end" fill="#262626">3500</text>
<line x1="727.5" y1="777.5" x2="727.5" y2="782.0" stroke="#c3c3c3" stroke-width="1"/>
<line x1="765.5" y1="777.5" x2="765.5" y2="782.0" stroke="#c3c3c3" stroke-width="1"/>
<line x1="799.5" y1="777.5" x2="799.5" y2="782.0" stroke="#c3c3c3" stroke-width="1"/>
<line x1="837.5" y1="777.5" x2="837.5" y2="782.0" stroke="#c3c3c3" stroke-width="1"/>
<line x1="873.5" y1="777.5" x2="873.5" y2="782.0" stroke="#c3c3c3" stroke-width="1"/>
<line x1="911.5" y1="777.5" x2="911.5" y2="782.0" stroke="#c3c3c3" stroke-width="1"/>
<line x1="948.5" y1="777.5" x2="948.5" y2="782.0" stroke="#c3c3c3" stroke-width="1"/>
<line x1="985.5" y1="777.5" x2="985.5" y2="782.0" stroke="#c3c3c3" stroke-width="1"/>
<line x1="1023.5" y1="777.5" x2="1023.5" y2="782.0" stroke="#c3c3c3" stroke-width="1"/>
<line x1="1060.5" y1="777.5" x2="1060.5" y2="782.0" stroke="#c3c3c3" stroke-width="1"/>
<line x1="1097.5" y1="777.5" x2="1097.5" y2="782.0" stroke="#c3c3c3" stroke-width="1"/>
<line x1="1134.5" y1="777.5" x2="1134.5" y2="782.0" stroke="#c3c3c3" stroke-width="1"/>
<text x="722.4" y="799.8" font-size="12" font-weight="normal" text-anchor="middle" fill="#262626">1</text>
<text x="760.3" y="799.8" font-size="12" font-weight="normal" text-anchor="middle" fill="#262626">2</text>
<text x="762.8" y="800.1" font-size="11" font-weight="normal" text-anchor="start" fill="#3a3a3a">,</text>
<text x="794.8" y="799.8" font-size="12" font-weight="normal" text-anchor="middle" fill="#262626">3</text>
<text x="832.5" y="799.8" font-size="12" font-weight="normal" text-anchor="middle" fill="#262626">4</text>
<text x="835.3" y="800.4" font-size="7.5" font-weight="normal" text-anchor="start" fill="#EDB88A">,</text>
<text x="868.2" y="799.8" font-size="12" font-weight="normal" text-anchor="middle" fill="#262626">5</text>
<text x="906.2" y="799.8" font-size="12" font-weight="normal" text-anchor="middle" fill="#262626">6</text>
<text x="943.0" y="799.8" font-size="12" font-weight="normal" text-anchor="middle" fill="#262626">7</text>
<text x="945.5" y="800.1" font-size="11" font-weight="normal" text-anchor="start" fill="#3a3a3a">,</text>
<text x="980.0" y="799.8" font-size="12" font-weight="normal" text-anchor="middle" fill="#262626">8</text>
<text x="982.5" y="800.1" font-size="11" font-weight="normal" text-anchor="start" fill="#3a3a3a">,</text>
<text x="1018.3" y="799.8" font-size="12" font-weight="normal" text-anchor="middle" fill="#262626">9</text>
<text x="1021.1" y="800.4" font-size="7.5" font-weight="normal" text-anchor="start" fill="#EDB88A">,</text>
<text x="1054.0" y="799.8" font-size="12" font-weight="normal" text-anchor="middle" fill="#262626">10</text>
<text x="1091.2" y="799.8" font-size="12" font-weight="normal" text-anchor="middle" fill="#262626">11</text>
<text x="1097.1" y="800.1" font-size="11" font-weight="normal" text-anchor="start" fill="#3a3a3a">,</text>
<text x="1129.4" y="799.8" font-size="12" font-weight="normal" text-anchor="middle" fill="#262626">12</text>
<line x1="820.2" y1="489.0" x2="845.3" y2="489.0" stroke="#ED7D31" stroke-width="1.9" stroke-linecap="round"/>
<text x="849.3" y="493.8" font-size="8.7" font-weight="normal" text-anchor="start" fill="#000" textLength="19.1" lengthAdjust="spacing" stroke="#000" stroke-width="0.3">2019</text>
<line x1="885.2" y1="489.0" x2="910.4" y2="489.0" stroke="#FF0000" stroke-width="2.0" stroke-linecap="round"/>
<text x="914.5" y="493.8" font-size="8.7" font-weight="normal" text-anchor="start" fill="#000" textLength="19.0" lengthAdjust="spacing" stroke="#000" stroke-width="0.3">2020</text>
<line x1="951.5" y1="489.0" x2="976.0" y2="489.0" stroke="#3061C0" stroke-width="1.6" stroke-linecap="round"/>
<text x="979.5" y="493.8" font-size="8.7" font-weight="normal" text-anchor="start" fill="#000" textLength="18.5" lengthAdjust="spacing" stroke="#000" stroke-width="0.3">2021</text>
<path d="M728.9 721.6 L730.3 719.1 L741.2 719.1 L744.2 716.8 L769.7 716.5 L771.2 701.1 L773.8 701.1 L774.8 694.9 L777.7 694.9 L779.9 696.8 L808.4 696.8 L812.4 699.7 L815.4 700.0 L817.1 701.9 L847.0 701.9 L848.0 700.0 L850.9 699.7 L854.7 696.8 L883.9 696.8 L886.0 700.9 L895.0 700.9 L897.8 700.9 L899.3 703.8 L902.5 704.1 L906.1 706.0 L909.1 706.2 L912.0 710.6 L915.2 715.7 L917.8 723.0 L923.2 726.7 L926.6 727.4 L927.7 735.1 L943.3 735.1 L944.8 728.9 L949.2 723.0 L960.1 723.0 L961.6 725.2 L967.0 724.9 L967.9 719.8 L969.6 719.4 L971.4 717.9 L987.8 717.9 L988.9 721.3 L993.7 721.3 L995.9 730.0 L1000.2 730.0 L1001.2 726.7 L1003.9 726.7 L1007.5 727.7 L1010.7 727.8 L1011.9 730.3 L1015.5 734.0 L1017.7 736.9 L1027.2 736.9 L1028.4 735.0 L1065.0 735.0 L1076.8 734.8 L1081.0 738.1 L1086.2 740.0 L1103.8 739.5 L1105.9 738.5 L1110.7 738.5 L1113.6 730.6 L1115.2 730.2 L1120.4 726.0 L1121.9 722.5 L1147.4 722.5 L1148.5 719.8 L1154.7 719.8 L1156.3 720.8 L1168.2 720.8" fill="none" stroke="#ED7D31" stroke-width="1.9" stroke-linejoin="round" stroke-linecap="round"/>
<path d="M728.9 721.3 L730.3 718.2 L779.2 718.2 L780.9 719.7 L793.0 719.7 L794.9 721.3 L796.7 725.2 L798.9 729.9 L821.2 729.9 L823.2 735.0 L831.0 735.0 L832.4 736.9 L834.6 737.9 L838.0 737.9 L839.3 743.0 L848.9 743.0 L850.6 748.5 L855.0 748.8 L857.9 754.8 L888.9 754.8 L890.8 748.5 L892.6 745.2 L894.1 740.5 L895.0 740.5 L900.3 741.0 L902.5 742.0 L906.1 742.0 L907.2 739.8 L909.1 739.8 L911.0 730.3 L914.9 730.0 L916.4 727.8 L925.8 727.7 L927.7 730.0 L936.8 730.0 L939.7 727.8 L958.7 727.8 L960.5 725.6 L968.1 725.6 L970.3 723.0 L987.1 722.7 L988.3 719.4 L990.8 719.1 L992.9 717.2 L1010.7 716.9 L1012.2 715.0 L1018.0 714.7 L1019.5 713.8 L1042.5 713.8 L1044.7 716.8 L1046.9 717.9 L1065.0 717.9 L1077.8 717.7 L1081.0 719.8 L1089.9 719.8 L1093.4 717.1 L1096.5 715.6 L1098.6 714.0 L1102.3 713.6 L1104.8 706.9 L1107.3 703.8 L1114.2 703.8 L1116.3 702.1 L1119.0 701.7 L1121.9 691.8 L1128.1 691.8 L1130.2 686.2 L1133.5 679.9 L1137.0 679.7 L1139.7 676.2 L1141.2 665.8 L1144.7 662.3 L1146.4 647.7 L1147.4 646.7 L1150.1 646.5 L1152.6 644.4 L1154.3 627.4 L1155.7 600.4 L1157.2 599.8 L1162.0 602.9 L1163.4 622.6 L1167.6 622.8" fill="none" stroke="#FF0000" stroke-width="2.0" stroke-linejoin="round" stroke-linecap="round"/>
<path d="M728.9 626.3 L730.3 621.8 L736.9 621.8 L739.1 624.8 L745.6 624.8 L747.8 628.0 L777.3 628.0 L778.2 620.0 L779.9 619.7 L781.4 616.8 L790.9 613.0 L792.3 609.8 L795.2 609.5 L797.4 607.2 L799.2 597.0 L804.0 596.7 L805.4 595.6 L807.6 597.0 L809.1 599.1 L813.5 592.7 L815.6 592.7 L817.5 596.4 L820.8 598.1 L822.5 597.8 L826.3 588.2 L831.7 588.2 L834.2 591.1 L838.0 586.2 L839.3 577.7 L841.2 576.0 L848.5 576.0 L849.9 574.1 L851.4 567.1 L854.7 567.1 L856.2 569.0 L857.9 569.0 L859.1 570.9 L860.1 568.2 L864.5 568.2" fill="none" stroke="#3061C0" stroke-width="1.6" stroke-linejoin="round" stroke-linecap="round"/>
<text x="730.5" y="454.9" font-size="13" font-weight="bold" text-anchor="start" fill="#000" textLength="161.7" lengthAdjust="spacing">Summary Price of Carbon</text>
<text x="743.4" y="469.3" font-size="13" font-weight="bold" text-anchor="start" fill="#000" textLength="134.9" lengthAdjust="spacing">Junction Round Steel</text>
<text x="660.7" y="480.4" font-size="13" font-weight="bold" text-anchor="start" fill="#000" textLength="88.0" lengthAdjust="spacing">Unit: RMB/Ton</text>
<text x="892.1" y="461.9" font-size="11.8" font-weight="normal" text-anchor="start" fill="#000" textLength="86.9" lengthAdjust="spacing" stroke="#000" stroke-width="0.2">: 45# : 80mm :</text>
<text x="982.1" y="462.7" font-size="13" font-weight="bold" text-anchor="start" fill="#000" textLength="77.1" lengthAdjust="spacing">Tianjin(day）</text>
</g>
</svg></body></html>
